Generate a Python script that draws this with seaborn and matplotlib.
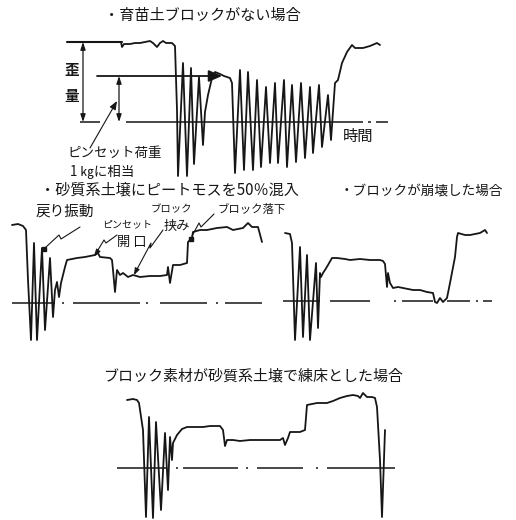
import matplotlib
matplotlib.use("Agg")
import matplotlib.pyplot as plt
import pandas as pd
import seaborn as sns

sns.set_style("white")
plt.rcParams['font.family'] = ['Noto Sans CJK JP', 'DejaVu Sans']

# ---------------------------------------------------------------
# Strain records (time in chart-paper units, strain above the zero line)
# ---------------------------------------------------------------
# Without a seedling block
t_none = [61, 62, 64, 70, 75, 80, 85, 90, 93, 97, 100, 103, 106, 112, 115, 117, 118,
          123, 127, 131, 134, 139, 143, 145, 148, 152, 155, 160, 164, 170, 172, 173, 175,
          180, 184, 188, 193, 197, 201, 206, 210, 215, 218, 224, 227, 232, 236, 241, 245,
          250, 253, 259, 262, 268, 271,
          275, 278, 282, 287, 292, 295, 303, 310, 317, 320]
s_none = [80, 75, 78, 78, 79, 79, 80, 81, 79, 75, 79, 81, 79, 79, 76, 12, -54,
          59, -54, 54, -42, 45, -23, 10, 27, 44, 50, 48, 46, 44, 39, 9, -51,
          52, -48, 50, -48, 42, -45, 35, -41, 39, -41, 42, -45, 37, -40, 39, -36,
          35, -31, 37, -25, 27, -18,
          39, 42, 59, 70, 77, 74, 74, 76, 79, 77]
full_scale = 80      # strain at full grip
tweezer_1kg = 46     # strain equivalent to 1 kg tweezer load

# Sandy soil mixed with 50 % peat moss
t_peat = [12, 18, 23, 26, 28, 31, 34, 37, 42, 45, 50, 53, 55, 57, 59, 61, 65, 67,
          72, 77, 85, 90, 95, 98, 100, 110, 112, 113, 115, 117, 120, 123, 128, 133,
          140, 150, 160, 167, 168, 170, 173, 180, 187, 188, 192, 193, 200, 207, 217,
          227, 233, 243, 248, 252, 258, 262]
s_peat = [78, 79, 77, 73, 23, -37, 60, -37, 55, -27, 45, -14, 13, 21, 6, 20, 36, 43,
          44, 45, 46, 47, 48, 50, 46, 45, 43, 33, 11, 33, 28, 30, 26, 28,
          26, 27, 27, 28, 36, 20, 38, 38, 40, 61, 65, 71, 73, 73, 75,
          76, 73, 75, 80, 76, 76, 61]

# Block collapsed
t_collapse = [15, 20, 22, 25, 30, 33, 37, 40, 46, 48, 50, 51, 53, 55, 58, 62, 67, 75,
              80, 90, 100, 110, 113, 115, 117, 118, 120, 123, 128, 133, 138, 143, 150,
              157, 163, 165, 167, 170, 173, 177, 180, 185, 187, 188, 195, 200, 210, 215, 217]
s_collapse = [68, 67, 58, -39, 54, -36, 46, -39, 38, -27, 28, 24, 28, 31, 36, 43, 43, 42,
              41, 42, 41, 41, 40, 37, 14, 28, 18, 13, 14, 13, 12, 11, 11,
              9, 8, -1, -2, 3, -1, 3, 18, 44, 64, 68, 66, 66, 68, 71, 68]

# Block made of sandy soil, puddled bed
t_puddled = [27, 33, 37, 39, 43, 46, 49, 53, 56, 61, 65, 68, 70, 72, 73, 77, 82, 87,
             95, 103, 110, 120, 123, 125, 127, 133, 140, 150, 160, 167, 175, 180, 183,
             185, 188, 190, 195, 200, 205, 207, 212, 217, 222, 227, 233, 240, 247, 253,
             258, 260, 263, 267, 272, 275, 277, 280, 282, 285]
s_puddled = [68, 69, 68, 65, 38, -49, 51, -50, 46, -42, 35, -22, 31, 8, 25, 33, 39, 41,
             41, 41, 42, 42, 38, 22, 28, 28, 27, 28, 28, 28, 28, 28, 30,
             23, 30, 36, 36, 36, 38, 63, 64, 65, 65, 65, 67, 70, 72, 73,
             72, 70, 75, 71, 71, 70, 61, 8, -49, 38]

# ---------------------------------------------------------------
W, H = 516, 520
fig = plt.figure(figsize=(W / 100, H / 100), dpi=100)
fig.patch.set_facecolor("white")

INK = "#161616"


def panel(box, base, t, s, zero_spans):
    L, T, R, B = box
    ax = fig.add_axes([L / W, 1 - B / H, (R - L) / W, (B - T) / H])
    ax.set_xlim(0, R - L)
    ax.set_ylim(base - B, base - T)
    ax.axis("off")
    df = pd.DataFrame({"time": t, "strain": s})
    sns.lineplot(data=df, x="time", y="strain", sort=False, estimator=None,
                 color=INK, lw=1.3, ax=ax)
    for a, b in zero_spans:
        ax.plot([a, b], [0, 0], color=INK, lw=1.1, solid_capstyle="butt")
    return ax


ax1 = panel((60, 30, 400, 182), 122, t_none, s_none,
            [(20, 40), (66, 303), (308, 311), (316, 328)])
ax2 = panel((0, 200, 270, 345), 303, t_peat, s_peat,
            [(12, 55), (62, 64), (73, 140), (146, 148), (160, 207), (216, 218), (225, 262)])
ax3 = panel((270, 200, 500, 345), 301, t_collapse, s_collapse,
            [(13, 50), (60, 100), (124, 126), (132, 163), (177, 200), (206, 208), (213, 222)])
ax4 = panel((100, 385, 420, 520), 468, t_puddled, s_puddled,
            [(17, 67), (76, 78), (83, 138), (146, 148), (157, 203), (216, 218), (227, 295)])

# reference levels in the first record
ax1.plot([7, 62], [full_scale, full_scale], color=INK, lw=1.5)
ax1.annotate("", xy=(162, tweezer_1kg), xytext=(37, tweezer_1kg),
             arrowprops=dict(arrowstyle="-|>,head_length=0.8,head_width=0.35",
                             color=INK, lw=1.3, shrinkA=0, shrinkB=0))
for xpos, top in [(23, full_scale), (59, tweezer_1kg)]:
    ax1.annotate("", xy=(xpos, top), xytext=(xpos, 0),
                 arrowprops=dict(arrowstyle="<|-|>,head_length=0.45,head_width=0.15",
                                 color=INK, lw=0.9, shrinkA=0, shrinkB=0))

# ---------------------------------------------------------------
# Labels and leader lines
ov = fig.add_axes([0, 0, 1, 1], facecolor="none")
ov.set_xlim(0, W)
ov.set_ylim(H, 0)
ov.axis("off")

def label(x, y, s, size, **kw):
    ov.text(x, y, s, fontsize=size, color=INK, ha="left", va="center", **kw)

label(104, 15, "・育苗土ブロックがない場合", 10.9)
label(64, 70, "歪", 10.5, fontweight="bold")
label(64, 96, "量", 10.5, fontweight="bold")
label(343, 136, "時間", 11)
label(67, 153, "ピンセット荷重", 9.7)
label(70, 172, "1 ㎏に相当", 9.7)

label(40, 190, "・砂質系土壌にピートモスを50％混入", 10.9)
label(36, 212, "戻り振動", 10.5)
label(151, 209, "ブロック", 7.5)
label(218, 209, "ブロック落下", 8.2)
label(102, 224, "ピンセット", 7.2)
label(164, 226, "挟み", 9.5)
label(117, 242, "開 口", 9.5)

label(340, 192, "・ブロックが崩壊した場合", 9.8)
label(103, 376, "ブロック素材が砂質系土壌で練床とした場合", 10.8)

# tweezer-load leader
ov.annotate("", xy=(117, 101), xytext=(90, 148),
            arrowprops=dict(arrowstyle="-|>,head_length=0.5,head_width=0.2",
                            color=INK, lw=0.8, shrinkA=0, shrinkB=0))

# zig-zag leaders
leaders = [
    [(80, 227), (61, 239), (59, 235), (46, 247)],
    [(117, 235), (106, 243), (104, 240), (95, 255)],
    [(163, 230), (150, 248), (151, 243), (135, 273)],
    [(214, 214), (201, 227), (199, 223), (192, 236)],
]
for pts in leaders:
    xs, ys = zip(*pts)
    ov.plot(xs, ys, color=INK, lw=0.8)
ov.plot([44, 191], [249, 239], ls="none", marker="s", ms=3.5, color=INK)
ov.annotate("", xy=(94, 256), xytext=(97, 252),
            arrowprops=dict(arrowstyle="-|>,head_length=0.4,head_width=0.15",
                            color=INK, lw=0.8, shrinkA=0, shrinkB=0))
ov.annotate("", xy=(134, 275), xytext=(136, 271),
            arrowprops=dict(arrowstyle="-|>,head_length=0.4,head_width=0.15",
                            color=INK, lw=0.8, shrinkA=0, shrinkB=0))

fig.savefig("out.png", dpi=100, facecolor="white")
